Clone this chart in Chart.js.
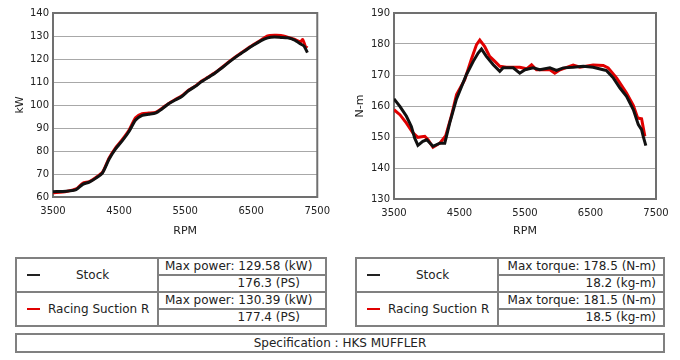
<!DOCTYPE html>
<html>
<head>
<meta charset="utf-8">
<script src="https://cdn.jsdelivr.net/npm/chart.js@4"></script>
<style>
body{margin:0;background:#fff;font-family:"DejaVu Sans",Verdana,sans-serif;font-size:12px;color:#222;width:680px;height:360px;overflow:hidden}
.box{position:absolute;top:0}
table{position:absolute;border-collapse:collapse;table-layout:fixed}
td{border:2px solid #808080;height:15px;padding:0;white-space:nowrap;line-height:15px}
.name{text-align:left;padding-left:10px}
.dash{display:inline-block;width:13px;height:2px;vertical-align:middle;margin-right:8px}
.spec{left:15px;top:333px;width:650px}
.spec td{text-align:center;height:16px}
</style>
</head>
<body>
<div class="box" style="left:0"><canvas id="powerChart" width="330" height="240"></canvas></div>
<div class="box" style="left:340px"><canvas id="torqueChart" width="340" height="240"></canvas></div>

<table style="left:15px;top:257px;width:312px">
<tr><td rowspan="2" class="name" style="width:130px"><span class="dash" style="background:#222"></span><span style="padding-left:28px">Stock</span></td>
<td style="padding-left:6px">Max power: 129.58 (kW)</td></tr>
<tr><td style="text-align:right;padding-right:25px">176.3 (PS)</td></tr>
<tr><td rowspan="2" class="name"><span class="dash" style="background:#e00000"></span>Racing Suction R</td>
<td style="padding-left:6px">Max power: 130.39 (kW)</td></tr>
<tr><td style="text-align:right;padding-right:25px">177.4 (PS)</td></tr>
</table>

<table style="left:355px;top:257px;width:310px">
<tr><td rowspan="2" class="name" style="width:130px"><span class="dash" style="background:#222"></span><span style="padding-left:28px">Stock</span></td>
<td style="text-align:right;padding-right:7px">Max torque: 178.5 (N-m)</td></tr>
<tr><td style="text-align:right;padding-right:7px">18.2 (kg-m)</td></tr>
<tr><td rowspan="2" class="name"><span class="dash" style="background:#e00000"></span>Racing Suction R</td>
<td style="text-align:right;padding-right:7px">Max torque: 181.5 (N-m)</td></tr>
<tr><td style="text-align:right;padding-right:7px">18.5 (kg-m)</td></tr>
</table>

<table class="spec"><tr><td>Specification : HKS MUFFLER</td></tr></table>

<script>
// power (kW) vs RPM
const powerRpmStock=[3500,3700,3850,3950,4050,4150,4250,4350,4450,4550,4650,4750,4850,4950,5050,5150,5250,5350,5450,5550,5650,5750,5850,5950,6050,6150,6250,6350,6450,6550,6650,6750,6850,6950,7050,7150,7250,7300,7350]
const powerStock=[62.3,62.5,63.2,65.5,66.5,68.2,70.5,76.5,81,84.5,88.5,93.5,95.5,96,96.5,98.3,100.5,102.2,103.7,106.2,108,110.2,112,113.8,116,118.3,120.5,122.5,124.5,126.3,128,129.2,129.6,129.4,129.2,128.3,126.5,125.6,122.8]
const powerRpmRacing=[3500,3700,3850,3950,4050,4150,4250,4350,4450,4550,4650,4750,4850,4950,5050,5150,5250,5350,5450,5550,5650,5750,5850,5950,6050,6150,6250,6350,6450,6550,6650,6750,6850,6950,7050,7150,7250,7280,7320,7350]
const powerRacing=[61.8,62.4,63.5,66,66.7,68.5,70.8,77,81.5,85,89,94.5,96.2,96.5,96.8,98.6,100.7,102.4,104,106.4,108.2,110.4,112.2,114,116.2,118.5,120.7,122.7,124.7,126.5,128.3,130,130.3,130.2,129.5,128.6,127.5,128.5,125.5,124.8]

// torque (N-m) vs RPM
const torqueRpmStock=[3500,3590,3690,3765,3815,3865,3940,4000,4095,4200,4275,4350,4450,4605,4710,4785,4835,4910,5015,5115,5165,5320,5420,5500,5625,5725,5880,5980,6085,6235,6390,6540,6695,6745,6850,6950,7050,7155,7230,7280,7305,7345]
const torqueStock=[162.3,159.9,156.7,153.4,149.7,147.3,148.6,149.1,147,148,148,154.5,162,170.1,174.4,177.1,178.4,176,173.3,171.2,172.3,172.3,170.6,171.7,172.3,171.7,172.3,171.5,172.3,172.5,172.8,172.5,171.7,171.4,169,165.8,163.1,158.8,154,152.4,150.2,147.2]
const torqueRpmRacing=[3500,3590,3690,3790,3865,3970,4020,4095,4200,4290,4375,4455,4580,4680,4760,4810,4885,4960,5040,5115,5215,5420,5525,5600,5675,5880,5955,6035,6235,6340,6540,6695,6770,6900,7050,7155,7220,7280,7330]
const torqueRacing=[158.8,157.2,154.5,151.3,149.9,150.2,149.1,146.7,148,150.4,156.7,163.7,168.5,175,179.8,181.3,179.2,176,174.4,172.8,172.5,172.5,172,173.3,171.7,171.7,170.6,171.7,173.2,172.5,173.2,173.1,172.3,169,164.2,160.1,156.1,155.9,150.2]

const rpmTicks=[3500,4500,5500,6500,7500]

function pts(xs,ys){
	return xs.map((x,i)=>({x:x,y:ys[i]}))
}

// frame round the plot area
const frame={
	id:'frame',
	beforeDatasetsDraw(chart){
		const a=chart.chartArea, c=chart.ctx
		c.save()
		c.strokeStyle='#707070'
		c.lineWidth=2
		c.strokeRect(a.left,a.top,a.right-a.left,a.bottom-a.top)
		c.restore()
	}
}

function makeChart(id,xs1,ys1,xs2,ys2,yMin,yMax,yTitle,area,tension){
	const cv=document.getElementById(id)
	const W=cv.width,H=cv.height
	return new Chart(cv.getContext('2d'),{
		type:'line',
		data:{datasets:[
			{label:'Stock',data:pts(xs1,ys1),borderColor:'#111',borderWidth:3,pointRadius:0,tension:tension,fill:false},
			{label:'Racing Suction R',data:pts(xs2,ys2),borderColor:'#e00000',borderWidth:3,pointRadius:0,tension:tension,fill:false}
		]},
		options:{
			responsive:false,animation:false,devicePixelRatio:1,
			layout:{padding:{top:area.top,right:W-area.right,left:0,bottom:0}},
			plugins:{legend:{display:false},tooltip:{enabled:false}},
			scales:{
				x:{type:'linear',min:3500,max:7500,
					afterBuildTicks(s){s.ticks=rpmTicks.map(v=>({value:v}))},
					afterFit(s){s.height=H-area.bottom},
					grid:{display:false},border:{display:false},
					ticks:{color:'#222',font:{family:'DejaVu Sans',size:10},padding:0,maxRotation:0,callback:v=>String(v)},
					title:{display:true,text:'RPM',color:'#222',font:{family:'DejaVu Sans',size:11},padding:{top:6,bottom:2}}
				},
				y:{min:yMin,max:yMax,
					afterFit(s){s.width=area.left},
					grid:{color:'#a8a8a8',lineWidth:1,drawTicks:false},border:{display:false},
					ticks:{stepSize:10,color:'#222',font:{family:'DejaVu Sans',size:10},padding:4},
					title:{display:true,text:yTitle,color:'#222',font:{family:'DejaVu Sans',size:11},padding:{top:14,bottom:0}}
				}
			}
		},
		plugins:[frame]
	})
}

makeChart('powerChart',powerRpmStock,powerStock,powerRpmRacing,powerRacing,60,140,'kW',{left:53,right:319,top:13,bottom:197},0.2)
makeChart('torqueChart',torqueRpmStock,torqueStock,torqueRpmRacing,torqueRacing,130,190,'N-m',{left:54,right:316,top:13,bottom:199},0)
</script>
</body>
</html>
